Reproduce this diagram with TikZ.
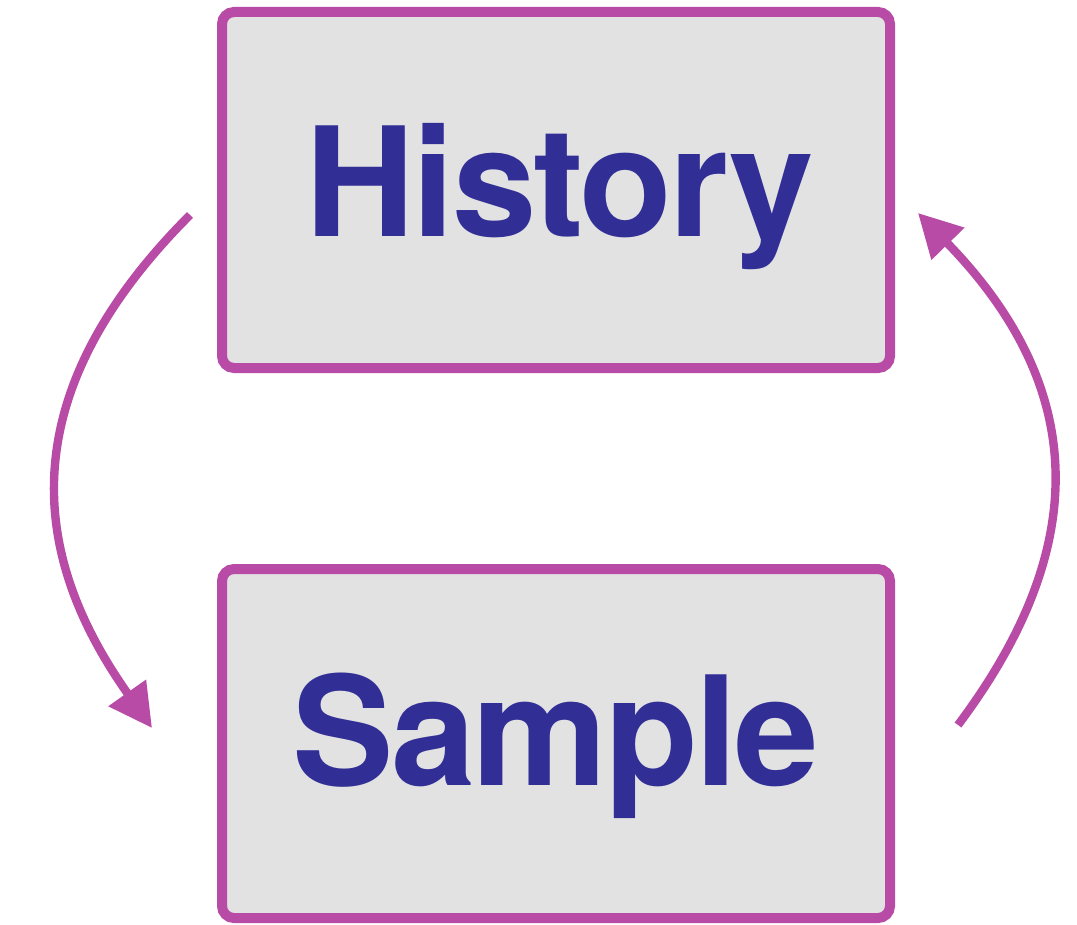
\documentclass[tikz,border=0pt]{standalone}
\usepackage{fontspec}
\setmainfont{TeX Gyre Heros}[LetterSpace=-1.9]
\usetikzlibrary{arrows.meta}
\definecolor{mag}{HTML}{B84BA6}
\definecolor{boxgray}{HTML}{E2E2E3}
\definecolor{txtblue}{HTML}{312E96}
\tikzset{
  panel/.style={draw=mag, fill=boxgray, line width=0.25cm, rounded corners=0.3cm},
  word/.style={text=txtblue, font=\fontsize{108}{130}\selectfont\bfseries, anchor=base, inner sep=0pt},
  flow/.style={draw=mag, line width=0.21cm, -{Triangle[length=1.075cm,width=1.1cm]}}
}
\begin{document}
\begin{tikzpicture}[x=0.025cm,y=-0.025cm]
\useasboundingbox (0,0) rectangle (1077,925);
\draw[panel] (222,12) rectangle (890,368);
\draw[panel] (222,569) rectangle (890,918);
\node[word] (hist) at (560,237) {History};
\node[word] (samp) at (556,785) {Sample};
\coordinate (a1) at (190,215);
\coordinate (a2) at (152,728);
\coordinate (b1) at (958,725);
\coordinate (b2) at (918,213);
\draw[flow] (a1) .. controls (-3,408) and (41,571) .. (a2);
\draw[flow] (b1) .. controls (1078,565) and (1102,402) .. (b2);
\end{tikzpicture}
\end{document}
